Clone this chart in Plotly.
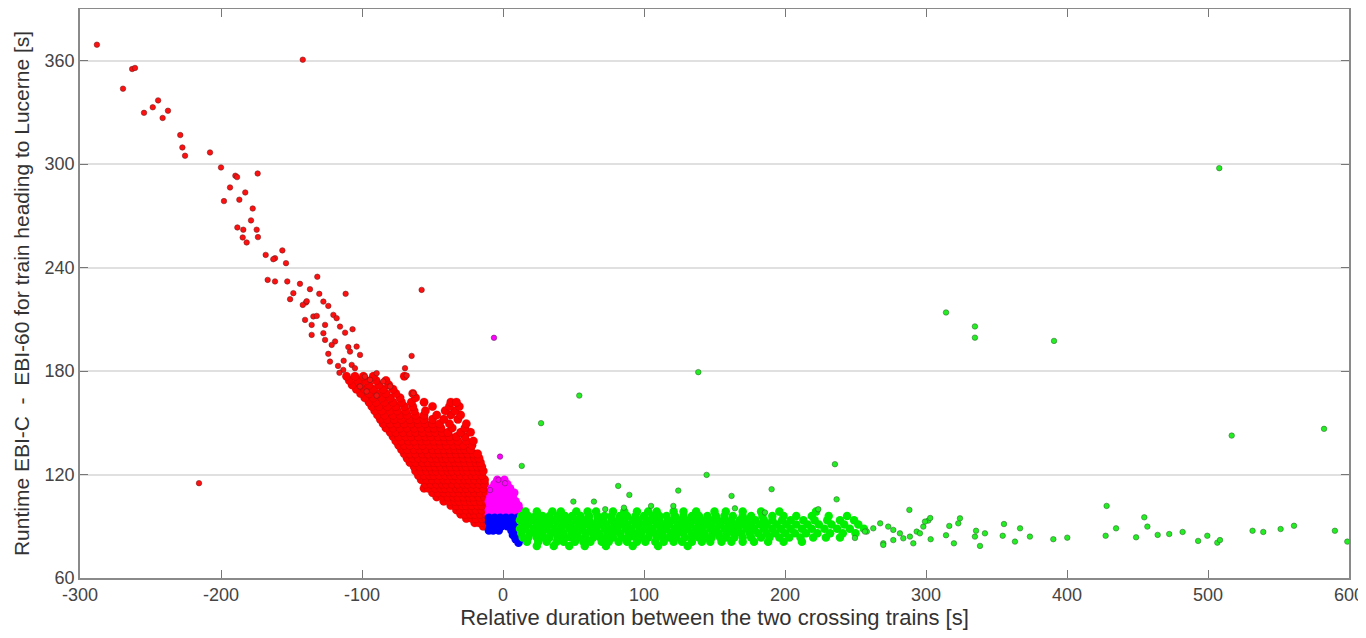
import plotly.graph_objects as go

# ---------------- data ----------------
# dense red wedge: y level -> x positions
red_rows = {
    90: [-14, -11],
    92: [-20, -17, -13, -11],
    94.5: [-26, -22, -19, -15, -12],
    97: [-30, -27, -23, -20, -16, -12],
    99.5: [-33, -30, -26, -22, -19, -15, -11],
    102: [-37, -33, -29, -26, -22, -18, -15, -11],
    104.5: [-42, -38, -34, -31, -27, -23, -20, -16, -12],
    107: [-47, -43, -39, -35, -32, -28, -24, -21, -17, -13],
    109.5: [-50, -46, -42, -38, -35, -31, -27, -24, -20, -16, -12],
    112: [-56, -53, -48, -44, -41, -37, -33, -30, -26, -22, -18, -14],
    114.5: [-55, -51, -47, -43, -40, -36, -32, -28, -25, -21, -17, -13],
    117: [-58, -54, -50, -46, -42, -39, -35, -31, -27, -24, -20, -16, -13],
    119.5: [-60, -56, -52, -49, -45, -41, -37, -34, -30, -26, -22, -19, -15],
    122: [-62, -58, -54, -50, -47, -43, -39, -36, -32, -28, -25, -21, -17, -14],
    124.5: [-63, -59, -55, -52, -48, -44, -40, -37, -33, -29, -26, -22, -18, -15],
    127: [-66, -62, -57, -53, -49, -46, -42, -38, -34, -31, -27, -23, -19, -16],
    129.5: [-68, -64, -60, -56, -51, -47, -43, -40, -36, -32, -28, -24, -20, -17],
    132: [-70, -66, -62, -57, -53, -49, -45, -41, -37, -33, -29, -25, -21, -18],
    134.5: [-72, -68, -63, -59, -55, -50, -46, -42, -38, -34, -30, -27, -23],
    137: [-74, -70, -66, -61, -57, -52, -48, -44, -40, -35, -31, -28, -22],
    139.5: [-76, -72, -67, -63, -58, -54, -49, -45, -41, -37, -32, -26, -21],
    142: [-78, -74, -69, -65, -60, -55, -51, -46, -42, -38, -33, -27],
    144.5: [-80, -76, -71, -66, -62, -57, -52, -48, -43, -39, -30, -23],
    147: [-83, -78, -73, -68, -63, -58, -53, -49, -44, -36, -27],
    149.5: [-85, -80, -75, -70, -65, -60, -55, -50, -45, -38, -26],
    152: [-87, -82, -77, -72, -66, -61, -56, -50, -42, -32],
    154.5: [-89, -84, -78, -73, -68, -62, -56, -47, -37, -30],
    157: [-91, -86, -80, -75, -69, -63, -55, -41, -34],
    159.5: [-93, -88, -82, -76, -70, -64, -50, -38, -31],
    162: [-95, -90, -84, -78, -72, -65, -56, -37, -33],
    164.5: [-98, -92, -86, -80, -73, -62],
    167: [-101, -95, -89, -83, -76, -64],
    169.5: [-104, -98, -92, -85, -78],
    172: [-107, -101, -95, -88, -81],
    174.5: [-109, -103, -97, -90, -83],
    177: [-111, -105, -99, -92, -70],
}
red_sparse_x = [-288, -142, -263, -261, -269.5, -244.6, -248.4, -254.6, -237.6, -241.4,
                -228.9, -227.4, -225.5, -207.8, -200, -189.8, -188.6, -174, -193.6, -182.8,
                -197.9, -187, -177.5, -178.7, -188.4, -184.2, -174.7, -184.6, -181.8, -173.8,
                -168.3, -161.7, -162.9, -156.5, -153.9, -131.7, -166.9, -161.7, -153, -144,
                -136.9, -148.7, -130.3, -111.6, -151, -139.7, -142, -123.9, -57.7, -120.3,
                -134.5, -139.2, -127.4, -118, -140.4, -132.1, -135.7, -126.2, -115.6, -106.7,
                -112, -127.4, -135.7, -126.2, -119.1, -121.5, -109.7, -103.8, -108.5, -101.4,
                -123.9, -122.7, -64.8, -107.3, -105, -113.3, -97.9, -89.6, -69.5, -68.3,
                -94.3, -85, -80, -101.4, -96.7, -89.6, -63.6, -215.6, -117, -113, -116]
red_sparse_y = [369.3, 360.6, 355.2, 355.8, 343.8, 337, 333, 329.8, 331, 326.8,
                316.9, 309.7, 304.9, 306.8, 298.1, 293.3, 292.5, 294.6, 286.5, 283.6,
                278.6, 279.4, 274.3, 267.4, 263.3, 262, 262, 257.5, 254.6, 257.7,
                247.4, 245.5, 244.9, 250, 242.6, 234.7, 232.9, 232, 232, 230.6,
                227.5, 225.2, 224.8, 224.8, 221.7, 219.8, 218.4, 217.8, 227.1, 212.6,
                211.7, 220.5, 220.3, 210.7, 209.7, 212, 206.8, 206.8, 205.8, 204.3,
                202.3, 202, 201, 198.1, 197.2, 195.2, 193.9, 194.2, 191.3, 189.4,
                190, 185.5, 188.8, 183.6, 181.7, 180.7, 176.8, 178.8, 181.7, 177.4,
                174.9, 174, 171.1, 171.1, 168.2, 165.8, 167.2, 115, 183, 186, 179]

magenta_rows = {
    97: [-10, -6, -2, 2, 6, 10],
    99.5: [-10, -7, -3, 1, 5, 9, 12],
    102: [-9, -5, -1, 3, 7, 11],
    104.5: [-10, -6, -2, 2, 6, 9],
    107: [-9, -5, -1, 3, 7],
    109.5: [-8, -4, 0, 4, 8],
    112: [-8, -3, 1, 5],
    114.5: [-6, -1, 3],
    117: [-4, 1],
}
magenta_sparse_x = [-2.1, -6.4, -3.3, 1.4, -9.2]
magenta_sparse_y = [130.4, 199.3, 116.9, 115, 111]

blue_rows = {
    95: [-10, -6, -2, 2, 6, 10],
    92.5: [-10, -7, -3, 1, 5, 9, 11],
    90: [-9, -5, -1, 3, 7, 11],
    87.5: [-10, -7, -3, 6, 9, 12],
    85: [7, 10, 12],
    82.5: [9, 12],
    80.5: [11],
}

green_rows = {
    98.5: [16, 24, 35, 41, 52, 60, 66, 78, 86, 95, 103, 109, 121, 128, 137, 150, 158, 170, 183, 196, 222],
    96: [13, 18, 23, 28, 33, 39, 44, 49, 55, 61, 67, 72, 77, 83, 88, 94, 100, 106, 111, 116, 122,
         128, 134, 139, 145, 151, 157, 163, 170, 176, 184, 191, 199, 208, 219, 231, 244],
    93.5: [12, 17, 21, 27, 32, 36, 42, 46, 52, 57, 61, 67, 71, 77, 82, 86, 92, 96, 102, 107, 111,
           117, 122, 126, 132, 137, 141, 147, 152, 157, 162, 168, 173, 179, 185, 191, 198, 204,
           213, 221, 230, 239, 249],
    91: [14, 18, 24, 29, 33, 39, 44, 48, 54, 58, 64, 69, 73, 79, 84, 88, 94, 99, 103, 109, 114,
         118, 124, 129, 133, 139, 144, 148, 154, 160, 165, 170, 176, 182, 187, 194, 201, 208,
         216, 224, 233, 242, 252],
    88.5: [12, 16, 22, 26, 31, 37, 41, 47, 51, 56, 62, 66, 72, 76, 81, 87, 91, 97, 101, 106, 112,
           116, 122, 126, 131, 137, 141, 147, 151, 157, 162, 167, 173, 178, 185, 191, 197, 204,
           212, 219, 228, 237, 246, 256],
    86: [13, 19, 23, 28, 34, 38, 43, 49, 53, 59, 64, 68, 74, 78, 83, 89, 93, 98, 104, 108, 113,
         119, 123, 128, 134, 138, 143, 149, 153, 159, 164, 169, 175, 181, 187, 193, 200, 207,
         215, 223, 232, 241, 250],
    83.5: [14, 18, 24, 29, 33, 39, 44, 48, 53, 58, 64, 69, 73, 78, 84, 89, 94, 98, 103, 109, 114,
           118, 123, 129, 134, 139, 144, 148, 154, 158, 164, 170, 176, 183, 189, 196, 203, 211,
           220, 229, 239],
    81: [17, 25, 31, 38, 43, 51, 57, 62, 70, 75, 82, 88, 95, 101, 108, 114, 121, 127, 134, 141,
         147, 155, 162, 170, 178, 188, 199, 212],
    78.5: [24, 36, 47, 58, 73, 92, 110, 131],
}
green_sparse_x = [138.5, 314.2, 334.7, 334.7, 390.8, 508, 516.8, 582.3, 288.2, 428.1,
                  454.8, 457, 434.8, 427.4, 449, 464.3, 472.5, 482, 493, 499.5,
                  506.6, 508.5, 531.6, 539.2, 551.5, 561, 590, 598.8, 390.3, 400.2,
                  373.7, 366.7, 363.1, 355.3, 354.4, 341.8, 335.5, 338.3, 334.7, 324.1,
                  322.9, 316.5, 314.2, 319.8, 303.3, 301.6, 298.1, 293.4, 288.6, 281.5,
                  276.8, 273.2, 269.7, 267.5, 262.6, 258, 291, 276.8, 283.9, 295.7,
                  54.1, 27, 13.3, 144.4, 235.4, 81.7, 89.6, 124.3, 190.5, 162.1,
                  236.6, 49.9, 64.5, 105, 120.8, 85.8, 72.5, 223.6, 303, 299.3,
                  269.7, 249.6, 256.7, 164.5, 185.8]
green_sparse_y = [179.4, 214, 205.9, 199.4, 197.5, 297.7, 142.6, 146.5, 99.5, 101.8,
                  95.2, 89.8, 88.8, 84.5, 83.6, 85, 85.5, 86.7, 81.5, 84.5,
                  80.5, 82, 87.4, 86.7, 88.4, 90.3, 87.4, 81.1, 82.5, 83.4,
                  84, 88.8, 81.1, 91.3, 84.5, 85.9, 87.4, 78.6, 84, 94.6,
                  91.7, 90.2, 84.8, 80.1, 82.5, 93.3, 89.8, 86.9, 84, 85.9,
                  87.9, 89.8, 80.1, 91.7, 88.8, 86.9, 80.1, 82, 83, 85.9,
                  165.8, 149.8, 125, 119.8, 126, 113.4, 108.2, 110.7, 111.5, 107.6,
                  105.6, 104.3, 104.3, 101.8, 101.8, 100.8, 99.9, 99.9, 94.8, 92.7,
                  79.2, 83.2, 86.9, 100.4, 98]

x_ticks = [-300, -200, -100, 0, 100, 200, 300, 400, 500, 600]
y_ticks = [60, 120, 180, 240, 300, 360]


def unpack(rows):
    xs, ys = [], []
    for yv, xv in rows.items():
        for x in xv:
            xs.append(x)
            ys.append(yv)
    return xs, ys


fig = go.Figure()

dense = [(red_rows, "#ff0000", "rgba(160,0,0,0.35)"),
         (magenta_rows, "#ff00ff", "rgba(0,0,0,0)"),
         (blue_rows, "#0000ff", "rgba(0,0,0,0)"),
         (green_rows, "#00ee00", "rgba(0,0,0,0)")]
for rows, col, edge in dense:
    xs, ys = unpack(rows)
    fig.add_trace(go.Scatter(x=xs, y=ys, mode="markers",
                             marker=dict(size=8.5, color=col, line=dict(width=0.6, color=edge)),
                             hoverinfo="x+y", showlegend=False))

sparse = [(red_sparse_x, red_sparse_y, "#ff1010", "rgba(110,30,30,0.55)"),
          (magenta_sparse_x, magenta_sparse_y, "#ff00ff", "rgba(90,40,90,0.55)"),
          (green_sparse_x, green_sparse_y, "#22ee22", "rgba(50,100,50,0.55)")]
for xs, ys, col, edge in sparse:
    fig.add_trace(go.Scatter(x=xs, y=ys, mode="markers",
                             marker=dict(size=5.5, color=col, line=dict(width=1, color=edge)),
                             hoverinfo="x+y", showlegend=False))

FONT = "Liberation Sans, Arial, sans-serif"
axis_common = dict(
    showline=True, linecolor="#8a8a8a", linewidth=1.5, mirror="ticks",
    ticks="inside", ticklen=8, tickwidth=1.2, tickcolor="#777",
    tickfont=dict(family=FONT, size=18, color="#444"),
    zeroline=False, automargin=False, ticklabeloverflow="allow",
)

fig.update_xaxes(range=[-300, 600], tickvals=x_ticks, ticktext=[str(v) for v in x_ticks],
                 showgrid=False,
                 title=dict(text="Relative duration between the two crossing trains [s]",
                            font=dict(family=FONT, size=22, color="#333"), standoff=8),
                 **axis_common)
fig.update_yaxes(range=[60, 390], tickvals=y_ticks, ticktext=[str(v) for v in y_ticks],
                 showgrid=True, gridcolor="#e0e0e0", gridwidth=1.5,
                 title=dict(text="Runtime EBI-C  -  EBI-60 for train heading to Lucerne [s]",
                            font=dict(family=FONT, size=21, color="#333"), standoff=9),
                 **axis_common)

# the page adds an 8 px body margin; the figure is sized to end at the window edge
fig.update_layout(width=1358, height=622, paper_bgcolor="white", plot_bgcolor="white",
                  margin=dict(l=72, r=17, t=1, b=52, autoexpand=False), showlegend=False)

fig.write_html("out.html")
